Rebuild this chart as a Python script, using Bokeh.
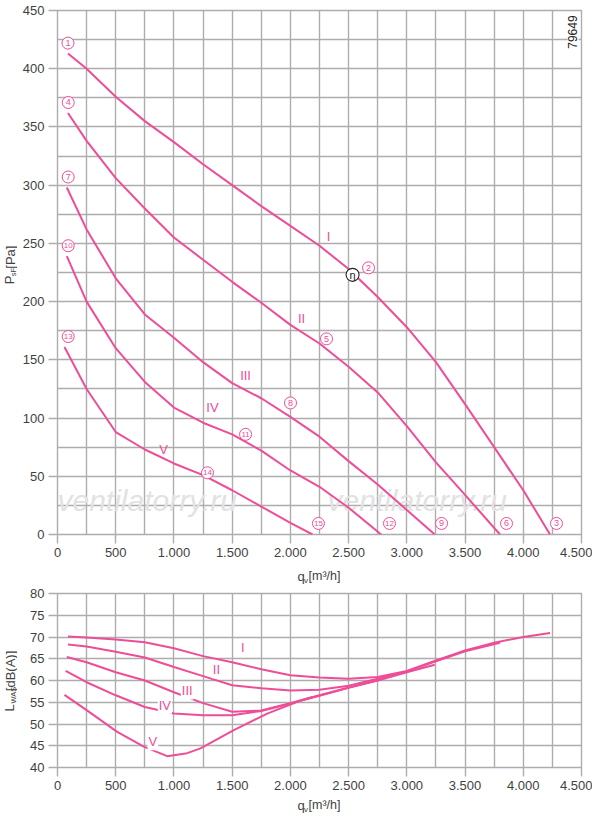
from math import pi
from bokeh.plotting import figure
from bokeh.models import Range1d, FixedTicker, Label
from bokeh.layouts import column, row
from bokeh.embed import file_html
from bokeh.resources import INLINE

# ---------------- data ----------------
# pressure curves (q_v in m3/h, p_sF in Pa)
p_I_x = [90, 250, 500, 750, 1000, 1250, 1500, 1750, 2000, 2250, 2500, 2750, 3000, 3250, 3500, 3750, 4000, 4230]
p_I_y = [413, 400, 376, 355, 337, 318, 300, 282, 265, 248, 228, 204, 178, 148, 112, 75, 38, 0]
p_II_x = [90, 250, 500, 750, 1000, 1250, 1500, 1750, 2000, 2250, 2500, 2750, 3000, 3250, 3500, 3800]
p_II_y = [362, 338, 306, 280, 255, 236, 217, 199, 180, 164, 144, 122, 93, 62, 34, 0]
p_III_x = [80, 250, 500, 750, 1000, 1250, 1500, 1750, 2000, 2250, 2500, 2750, 3000, 3240]
p_III_y = [298, 262, 220, 189, 169, 148, 130, 117, 101, 84, 63, 43, 21, 0]
p_IV_x = [80, 250, 500, 750, 1000, 1250, 1500, 1750, 2000, 2250, 2500, 2780]
p_IV_y = [239, 200, 160, 131, 109, 96, 86, 72, 55, 41, 23, 0]
p_V_x = [60, 250, 500, 750, 1000, 1250, 1500, 1750, 2000, 2190]
p_V_y = [161, 125, 88, 73, 61, 51, 38, 24, 10, 0]

# sound power curves (L_WAS in dB(A))
l_I_x = [90, 250, 500, 750, 1000, 1250, 1500, 1750, 2000, 2250, 2500, 2750, 3000, 3250, 3500, 3750, 4000, 4230]
l_I_y = [70.1, 69.9, 69.4, 68.8, 67.4, 65.6, 64.2, 62.6, 61.2, 60.7, 60.4, 60.8, 62.2, 64.6, 66.9, 68.7, 70.0, 70.9]
l_II_x = [90, 250, 500, 750, 1000, 1250, 1500, 1750, 2000, 2250, 2500, 2750, 3000, 3250, 3500, 3800]
l_II_y = [68.3, 67.8, 66.6, 65.3, 63.1, 61.0, 58.9, 58.2, 57.7, 57.9, 58.8, 60.4, 62.1, 64.4, 66.7, 68.7]
l_III_x = [80, 250, 500, 750, 1000, 1250, 1500, 1750, 2000, 2250, 2500, 2750, 3000, 3240]
l_III_y = [65.4, 64.2, 61.9, 60.0, 57.3, 54.8, 52.8, 53.1, 54.8, 56.6, 58.4, 60.0, 61.9, 63.6]
l_IV_x = [70, 250, 500, 750, 1000, 1250, 1500, 1750, 2000, 2250, 2500, 2780]
l_IV_y = [62.2, 59.6, 56.6, 53.9, 52.4, 52.0, 52.0, 53.0, 54.7, 56.5, 58.3, 60.2]
l_V_x = [60, 250, 513, 741, 942, 1114, 1228, 1514, 1801, 2087, 2190]
l_V_y = [56.7, 53.2, 48.2, 44.8, 42.6, 43.3, 44.4, 48.6, 52.4, 55.4, 56.2]

# circled point numbers
num_text = ["1", "4", "7", "10", "13", "2", "5", "8", "11", "14", "3", "6", "9", "12", "15"]
num_x = [90, 92, 92, 92, 92, 2671, 2310, 2001, 1615, 1288, 4285, 3856, 3298, 2851, 2241]
num_y = [422, 371, 307, 248, 170, 229, 168, 113, 86, 53, 9.5, 9.5, 9.5, 9.5, 9.5]

# optimum efficiency point
eta_x = [2534]
eta_y = [223]

# roman speed labels
roman = ["I", "II", "III", "IV", "V"]
rp_x = [2327, 2096, 1615, 1331, 910]
rp_y = [256, 185.5, 136.5, 109, 73]
rl_x = [1592, 1365, 1114, 922, 819]
rl_y = [67.5, 62.5, 57.6, 54.3, 45.9]

x_ticks = list(range(0, 4501, 500))
x_labels = {v: f"{v:,}".replace(",", ".") for v in x_ticks}
p_ticks = list(range(0, 451, 50))
l_ticks = list(range(40, 81, 5))

# ---------------- style ----------------
PINK = "#ee4d97"
GRID = "#adadad"
TXT = "#3f3f3f"
FONT = "Liberation Sans"
YT_W = 17            # width of the strip holding the vertical axis titles
W = 592


def fx(px):
    return (px - 57) * 4500 / 524


def fy1(py):
    return (534 - py) * 450 / 524


def style(p, yt, ygrid):
    p.outline_line_color = GRID
    p.outline_line_width = 1.4
    p.background_fill_color = "white"
    p.border_fill_color = "white"
    p.xaxis.ticker = FixedTicker(ticks=x_ticks)
    p.xaxis.major_label_overrides = x_labels
    p.yaxis.ticker = FixedTicker(ticks=yt)
    for ax in (p.xaxis, p.yaxis):
        ax.axis_line_color = None
        ax.major_tick_line_color = GRID
        ax.major_tick_line_width = 1.4
        ax.major_tick_in = 0
        ax.major_tick_out = 9
        ax.minor_tick_line_color = None
        ax.major_label_text_font = FONT
        ax.major_label_text_font_size = "13px"
        ax.major_label_text_color = TXT
        ax.axis_label_standoff = 0
    p.xaxis.major_label_standoff = 4
    p.yaxis.major_label_standoff = 4
    p.xgrid.ticker = FixedTicker(ticks=list(range(0, 4501, 250)))
    p.ygrid.ticker = FixedTicker(ticks=ygrid)
    for g in (p.xgrid, p.ygrid):
        g.grid_line_color = GRID
        g.grid_line_width = 1.4


def lab(p, x, y, text, size="13px", color=TXT, angle=0.0, align="left",
        baseline="alphabetic", bg=None, style_="normal", level="annotation", pad=0):
    p.add_layout(Label(x=x, y=y, text=text, text_font=FONT, text_font_size=size,
                       text_color=color, angle=angle, text_align=align,
                       text_baseline=baseline, background_fill_color=bg,
                       text_font_style=style_, level=level, padding=pad))


def strip(w, h):
    # a bare figure whose frame is the whole canvas, in pixel-like coordinates
    s = figure(width=w, height=h, x_range=Range1d(0, w), y_range=Range1d(0, h),
               x_axis_type=None, y_axis_type=None, output_backend="svg",
               toolbar_location=None, title=None, min_border=0)
    s.outline_line_color = None
    s.grid.visible = False
    s.background_fill_color = "white"
    s.border_fill_color = "white"
    return s


# ---------------- pressure chart ----------------
H1 = 562
p1 = figure(width=W - YT_W, height=H1, x_range=Range1d(0, 4500), y_range=Range1d(0, 450),
            output_backend="svg", toolbar_location=None, title=None,
            min_border_left=57 - YT_W, min_border_right=11, min_border_top=10, min_border_bottom=28)
style(p1, p_ticks, list(range(0, 451, 25)))

# watermark
lab(p1, fx(57), fy1(500), "ventilatorry.ru", size="30px", color="#e2e2e2", style_="italic", level="underlay")
lab(p1, fx(327), fy1(500), "ventilatorry.ru", size="30px", color="#e2e2e2", style_="italic", level="underlay")

for xs, ys in [(p_I_x, p_I_y), (p_II_x, p_II_y), (p_III_x, p_III_y), (p_IV_x, p_IV_y), (p_V_x, p_V_y)]:
    p1.line(xs, ys, line_color=PINK, line_width=2.0)

p1.scatter(num_x, num_y, marker="circle", size=12, line_color=PINK, line_width=1.0, fill_color="white")
for t, x, y in zip(num_text, num_x, num_y):
    lab(p1, x, y, t, size="8px" if len(t) > 1 else "9px", color=PINK, align="center", baseline="middle")

p1.scatter(eta_x, eta_y, marker="circle", size=13, line_color="#222222", line_width=1.1, fill_color="white")
lab(p1, eta_x[0], eta_y[0], "η", size="11px", color="#222222", align="center", baseline="middle")

for t, x, y in zip(roman, rp_x, rp_y):
    lab(p1, x, y, t, size="13px", color=PINK, align="center", baseline="middle")

lab(p1, 4427, 431.5, "79649", size="12px", color="#222222", angle=pi / 2, align="center",
    baseline="middle", bg="white", pad=1)

# vertical title strip (page y 0..H1): text centres in page pixels
yt1 = strip(YT_W, H1)
lab(yt1, 9.0, H1 - 289, "P", angle=pi / 2, align="center", baseline="middle")
lab(yt1, 12.6, H1 - 280.5, "sF", size="7.5px", angle=pi / 2, align="center", baseline="middle")
lab(yt1, 9.5, H1 - 264.5, "[Pa]", angle=pi / 2, align="center", baseline="middle")

# horizontal title strip (page y H1..586)
XT1_H = 586 - H1
xt1 = strip(W, XT1_H)
lab(xt1, 297, 586 - 575.5, "q", baseline="middle")
lab(xt1, 303.5, 586 - 580, "v", size="8px", baseline="middle")
lab(xt1, 308, 586 - 575.7, "[m³/h]", size="12.5px", baseline="middle")

# ---------------- sound chart ----------------
H2 = 209
p2 = figure(width=W - YT_W, height=H2, x_range=Range1d(0, 4500), y_range=Range1d(40, 80),
            output_backend="svg", toolbar_location=None, title=None,
            min_border_left=57 - YT_W, min_border_right=11, min_border_top=7, min_border_bottom=28)
style(p2, l_ticks, l_ticks)

for xs, ys in [(l_I_x, l_I_y), (l_II_x, l_II_y), (l_III_x, l_III_y), (l_IV_x, l_IV_y), (l_V_x, l_V_y)]:
    p2.line(xs, ys, line_color=PINK, line_width=2.0)

for t, x, y in zip(roman, rl_x, rl_y):
    lab(p2, x, y, t, size="13px", color=PINK, align="center", baseline="middle", bg="white", pad=1)

B2 = 586 + H2
yt2 = strip(YT_W, H2)
lab(yt2, 9.0, B2 - 723.4, "L", angle=pi / 2, align="center", baseline="middle")
lab(yt2, 12.6, B2 - 708, "WAS", size="7.5px", angle=pi / 2, align="center", baseline="middle")
lab(yt2, 9.5, B2 - 679, "[dB(A)]", angle=pi / 2, align="center", baseline="middle")

XT2_H = 819 - B2
xt2 = strip(W, XT2_H)
lab(xt2, 297, 819 - 804.5, "q", baseline="middle")
lab(xt2, 303.5, 819 - 809, "v", size="8px", baseline="middle")
lab(xt2, 308, 819 - 804.7, "[m³/h]", size="12.5px", baseline="middle")

layout = column(row(yt1, p1), xt1, row(yt2, p2), xt2)
open("out.html", "w").write(file_html(layout, INLINE))
